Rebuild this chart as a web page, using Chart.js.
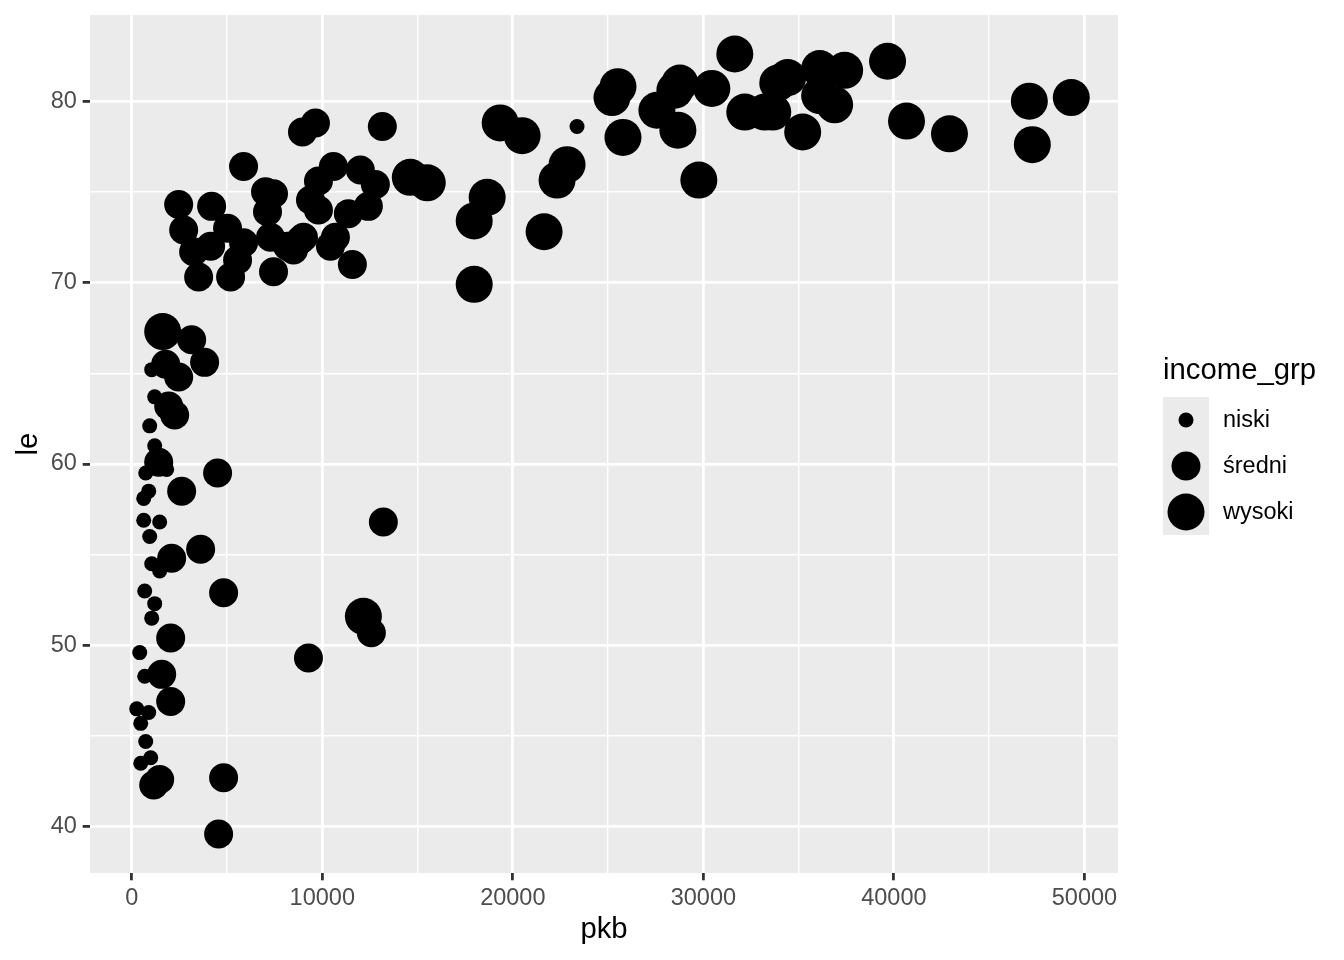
<!DOCTYPE html>
<html>
<head>
<meta charset="utf-8">
<script src="https://cdn.jsdelivr.net/npm/chart.js@4.4.1/dist/chart.umd.min.js"></script>
<style>
  body { margin: 0; background: #fff; }
  canvas { display: block; }
</style>
</head>
<body>
<canvas id="myChart" width="1344" height="960"></canvas>
<script>
// income groups (legend order)
let groups = ['niski', 'średni', 'wysoki']

// niski
let pkbNiski = [262, 419, 472, 472, 734, 891, 681, 996, 943, 681, 1205, 1048, 629, 1467, 943,
    1048, 1467, 891, 629, 734, 1834, 1205, 943, 1205, 1048, 23370]
let leNiski = [46.5, 49.6, 45.7, 43.5, 44.7, 46.3, 48.3, 43.8, 42.2, 53.0, 52.3, 51.5, 56.9, 56.8, 56.0,
    54.5, 54.1, 58.5, 58.1, 59.5, 59.7, 61.0, 62.1, 63.7, 65.2, 78.6]

// średni
let pkbSredni = [1415, 4506, 2620, 3616, 2096, 4821, 2044, 1572, 2044, 1467, 1153, 4821, 4559,
    3144, 3825, 1782, 2463, 1939, 2253, 9275, 12576, 13205,
    2463, 4192, 2725, 5030, 3249, 3511, 5188, 7441, 5869, 7022, 7441, 7126, 7284, 5869, 4140,
    5555, 8489, 9013, 9380, 9799, 10585, 12000, 12786, 12419, 11371, 10690, 10428, 9799, 11580,
    8960, 9642, 13152, 8175, 8856]
let leSredni = [60.1, 59.5, 58.5, 55.3, 54.8, 52.9, 50.4, 48.4, 46.9, 42.6, 42.3, 42.7, 39.6,
    66.85, 65.6, 65.5, 64.8, 63.2, 62.7, 49.3, 50.7, 56.8,
    74.3, 74.2, 72.9, 73.0, 71.7, 70.3, 70.3, 70.6, 76.4, 75.0, 74.9, 73.9, 72.5, 72.2, 72.0,
    71.25, 71.8, 72.5, 74.55, 75.6, 76.4, 76.2, 75.4, 74.2, 73.8, 72.5, 72.0, 74.0, 71.0,
    78.3, 78.8, 78.6, 72.0, 72.35]

// wysoki
let pkbWysoki = [1624, 12157, 14620, 15511, 17973, 17973, 18654, 19336, 20488, 22846, 22322, 21641,
    25519, 25204, 25781, 27562, 28768, 28506, 28663, 30444, 29763, 31650, 32174, 33222, 33641,
    33903, 34427, 35213, 36104, 37414, 36104, 36890, 39667, 40662, 42916, 47108, 47265, 49309]
let leWysoki = [67.3, 51.6, 75.8, 75.5, 73.4, 69.9, 74.7, 78.8, 78.1, 76.5, 75.65, 72.8,
    80.8, 80.2, 78.0, 79.5, 81.0, 80.6, 78.4, 80.7, 75.65, 82.6, 79.4, 79.4, 79.4,
    81.0, 81.3, 78.3, 81.8, 81.7, 80.3, 79.8, 82.2, 78.9, 78.2, 80.0, 77.6, 80.2]

let xTicks = [0, 5000, 10000, 15000, 20000, 25000, 30000, 35000, 40000, 45000, 50000]
let yTicks = [40, 45, 50, 55, 60, 65, 70, 75, 80]

const font = '"Liberation Sans", Arial, Helvetica, sans-serif'
const sizes = [7.5, 14.5, 18.5]
const toPoints = (xs, ys) => xs.map((x, i) => ({ x: x, y: ys[i] }))

const allX = pkbNiski.concat(pkbSredni, pkbWysoki)
const allY = leNiski.concat(leSredni, leWysoki)
const expand = (arr) => {
    let lo = Math.min.apply(Math, arr), hi = Math.max.apply(Math, arr)
    let pad = (hi - lo) * 0.05
    return [lo - pad, hi + pad]
}
const xr = expand(allX)
const yr = expand(allY)

const panelBg = {
    id: 'panelBg',
    beforeDraw(chart) {
        const { ctx, chartArea: a } = chart
        ctx.save()
        ctx.fillStyle = '#ffffff'
        ctx.fillRect(0, 0, chart.width, chart.height)
        ctx.fillStyle = '#EBEBEB'
        ctx.fillRect(a.left, a.top, a.right - a.left, a.bottom - a.top)
        ctx.restore()
    }
}

const ggLegend = {
    id: 'ggLegend',
    afterDraw(chart) {
        const ctx = chart.ctx
        const left = 1163, keyW = 46, keyH = 46, top = 397
        ctx.save()
        ctx.fillStyle = '#000'
        ctx.font = '29.3px ' + font
        ctx.textBaseline = 'middle'
        ctx.fillText('income_grp', left, 371)
        ctx.fillStyle = '#EBEBEB'
        ctx.fillRect(left, top, keyW, keyH * groups.length)
        groups.forEach((g, i) => {
            let cy = top + keyH * i + keyH / 2
            ctx.fillStyle = '#000'
            ctx.beginPath()
            ctx.arc(left + keyW / 2, cy, sizes[i], 0, Math.PI * 2)
            ctx.fill()
            ctx.font = '23.5px ' + font
            ctx.fillText(g, 1223, cy + 1)
        })
        ctx.restore()
    }
}

const isMajor = (v, step) => Math.abs(v % step) < 1e-9

let myChart = document.getElementById('myChart').getContext('2d')
new Chart(myChart, {
    type: 'scatter',
    data: {
        datasets: [
            { label: groups[0], data: toPoints(pkbNiski, leNiski), pointRadius: sizes[0] },
            { label: groups[1], data: toPoints(pkbSredni, leSredni), pointRadius: sizes[1] },
            { label: groups[2], data: toPoints(pkbWysoki, leWysoki), pointRadius: sizes[2] }
        ].map(d => Object.assign(d, {
            backgroundColor: '#000',
            borderWidth: 0,
            pointBorderWidth: 0,
            pointHoverRadius: d.pointRadius
        }))
    },
    options: {
        responsive: false,
        animation: false,
        layout: { autoPadding: false, padding: { top: 15, right: 226, left: 0, bottom: 0 } },
        plugins: {
            legend: { display: false },
            tooltip: { enabled: false }
        },
        scales: {
            x: {
                type: 'linear',
                min: xr[0],
                max: xr[1],
                afterBuildTicks: s => { s.ticks = xTicks.map(v => ({ value: v })) },
                afterFit: s => { s.height = 87; s.paddingLeft = 0; s.paddingRight = 0 },
                border: { display: false },
                grid: {
                    color: '#ffffff',
                    lineWidth: c => isMajor(c.tick.value, 10000) ? 2.8 : 1.4,
                    tickColor: c => isMajor(c.tick.value, 10000) ? '#333333' : 'rgba(0,0,0,0)',
                    tickLength: 7.3,
                    tickWidth: 2.8
                },
                ticks: {
                    autoSkip: false,
                    maxRotation: 0,
                    padding: 6,
                    color: '#4D4D4D',
                    font: { family: font, size: 23.5, lineHeight: 1 },
                    callback: v => isMajor(v, 10000) ? String(v) : ''
                },
                title: {
                    display: true,
                    text: 'pkb',
                    color: '#000',
                    font: { family: font, size: 29.3, lineHeight: 1 },
                    padding: { top: 0, bottom: 15 }
                }
            },
            y: {
                type: 'linear',
                min: yr[0],
                max: yr[1],
                afterBuildTicks: s => { s.ticks = yTicks.map(v => ({ value: v })) },
                afterFit: s => { s.width = 90; s.paddingTop = 0; s.paddingBottom = 0 },
                border: { display: false },
                grid: {
                    color: '#ffffff',
                    lineWidth: c => isMajor(c.tick.value, 10) ? 2.8 : 1.4,
                    tickColor: c => isMajor(c.tick.value, 10) ? '#333333' : 'rgba(0,0,0,0)',
                    tickLength: 7.3,
                    tickWidth: 2.8
                },
                ticks: {
                    autoSkip: false,
                    padding: 5.9,
                    color: '#4D4D4D',
                    font: { family: font, size: 23.5, lineHeight: 1 },
                    callback: v => isMajor(v, 10) ? String(v) : ''
                },
                title: {
                    display: true,
                    text: 'le',
                    color: '#000',
                    font: { family: font, size: 29.3, lineHeight: 1 },
                    padding: { top: 14, bottom: 0 }
                }
            }
        }
    },
    plugins: [panelBg, ggLegend]
})
</script>
</body>
</html>
